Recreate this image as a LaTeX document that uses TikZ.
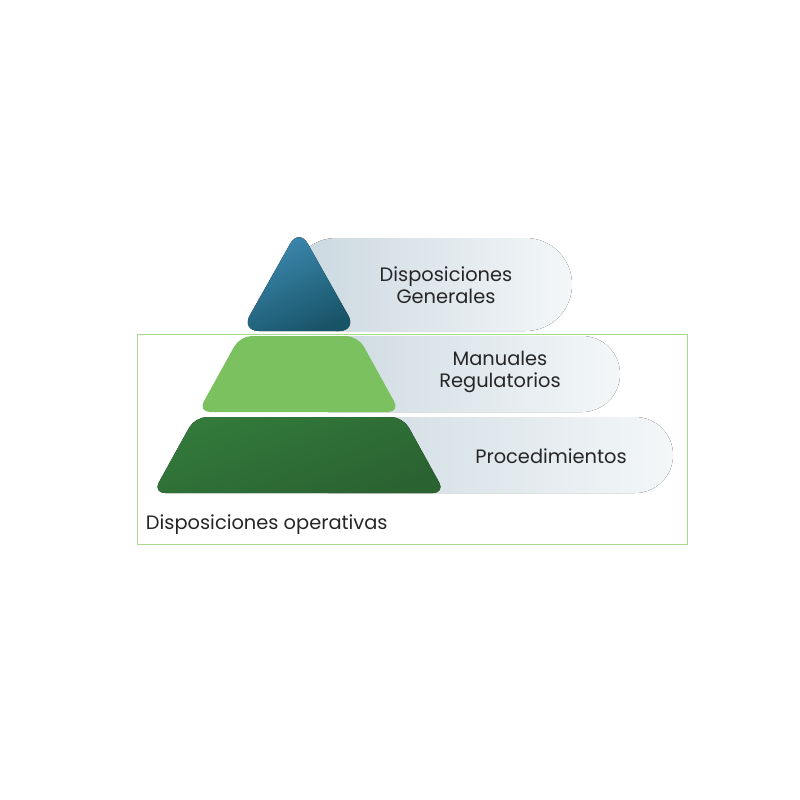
\documentclass[tikz,border=0pt]{standalone}
\usepackage{fontspec}
\setmainfont{Poppins}
\usetikzlibrary{positioning}

\definecolor{pillL}{HTML}{C9D7DF}
\definecolor{pillR}{HTML}{F4F7F8}
\definecolor{topA}{HTML}{3F8DB6}
\definecolor{topB}{HTML}{185468}
\definecolor{midG}{HTML}{7BC160}
\definecolor{lowA}{HTML}{337A3B}
\definecolor{lowB}{HTML}{2A6231}
\definecolor{frameG}{HTML}{A8DC8C}
\definecolor{txt}{HTML}{262626}

\begin{document}
\begin{tikzpicture}[
      x=0.25mm, y=-0.25mm,
      pill/.style={shading=axis, left color=pillL, right color=pillR},
      layer/.style={rounded corners=3mm},
      lbl/.style={font=\fontsize{13.8}{16}\selectfont, text=txt, align=center},
      frame/.style={draw=frameG, line width=0.6pt},
    ]
    \useasboundingbox (0,0) rectangle (800,800);

    % outer box for the operative layers
    \draw[frame] (137,334) rectangle (687,544);

    % light bands behind each level
    \fill[pill, rounded corners=11.6mm] (290,238) rectangle (572,331);
    \fill[pill, rounded corners=9.5mm] (290,336) rectangle (620,412);
    \fill[pill, rounded corners=9.5mm] (290,417) rectangle (673,493);

    % pyramid levels (one triangle, sliced)
    \fill[layer, rounded corners=4.5mm, top color=topA, bottom color=topB, shading angle=25]
      (299,228) -- (357,331) -- (241,331) -- cycle;
    \fill[layer, midG]
      (240,336) -- (358,336) -- (400,412) -- (198,412) -- cycle;
    \fill[layer, top color=lowA, bottom color=lowB, shading angle=20]
      (195,417) -- (403,417) -- (445,493) -- (153,493) -- cycle;

    % labels
    \node[lbl] (gen) at (446,285) {Disposiciones\\Generales};
    \node[lbl] (man) at (500,372) {Manuales\\Regulatorios};
    \node[lbl] (proc) at (551,456) {Procedimientos};
    \node[lbl, anchor=west] (oper) at (141,525) {Disposiciones operativas};
  \end{tikzpicture}
\end{document}
